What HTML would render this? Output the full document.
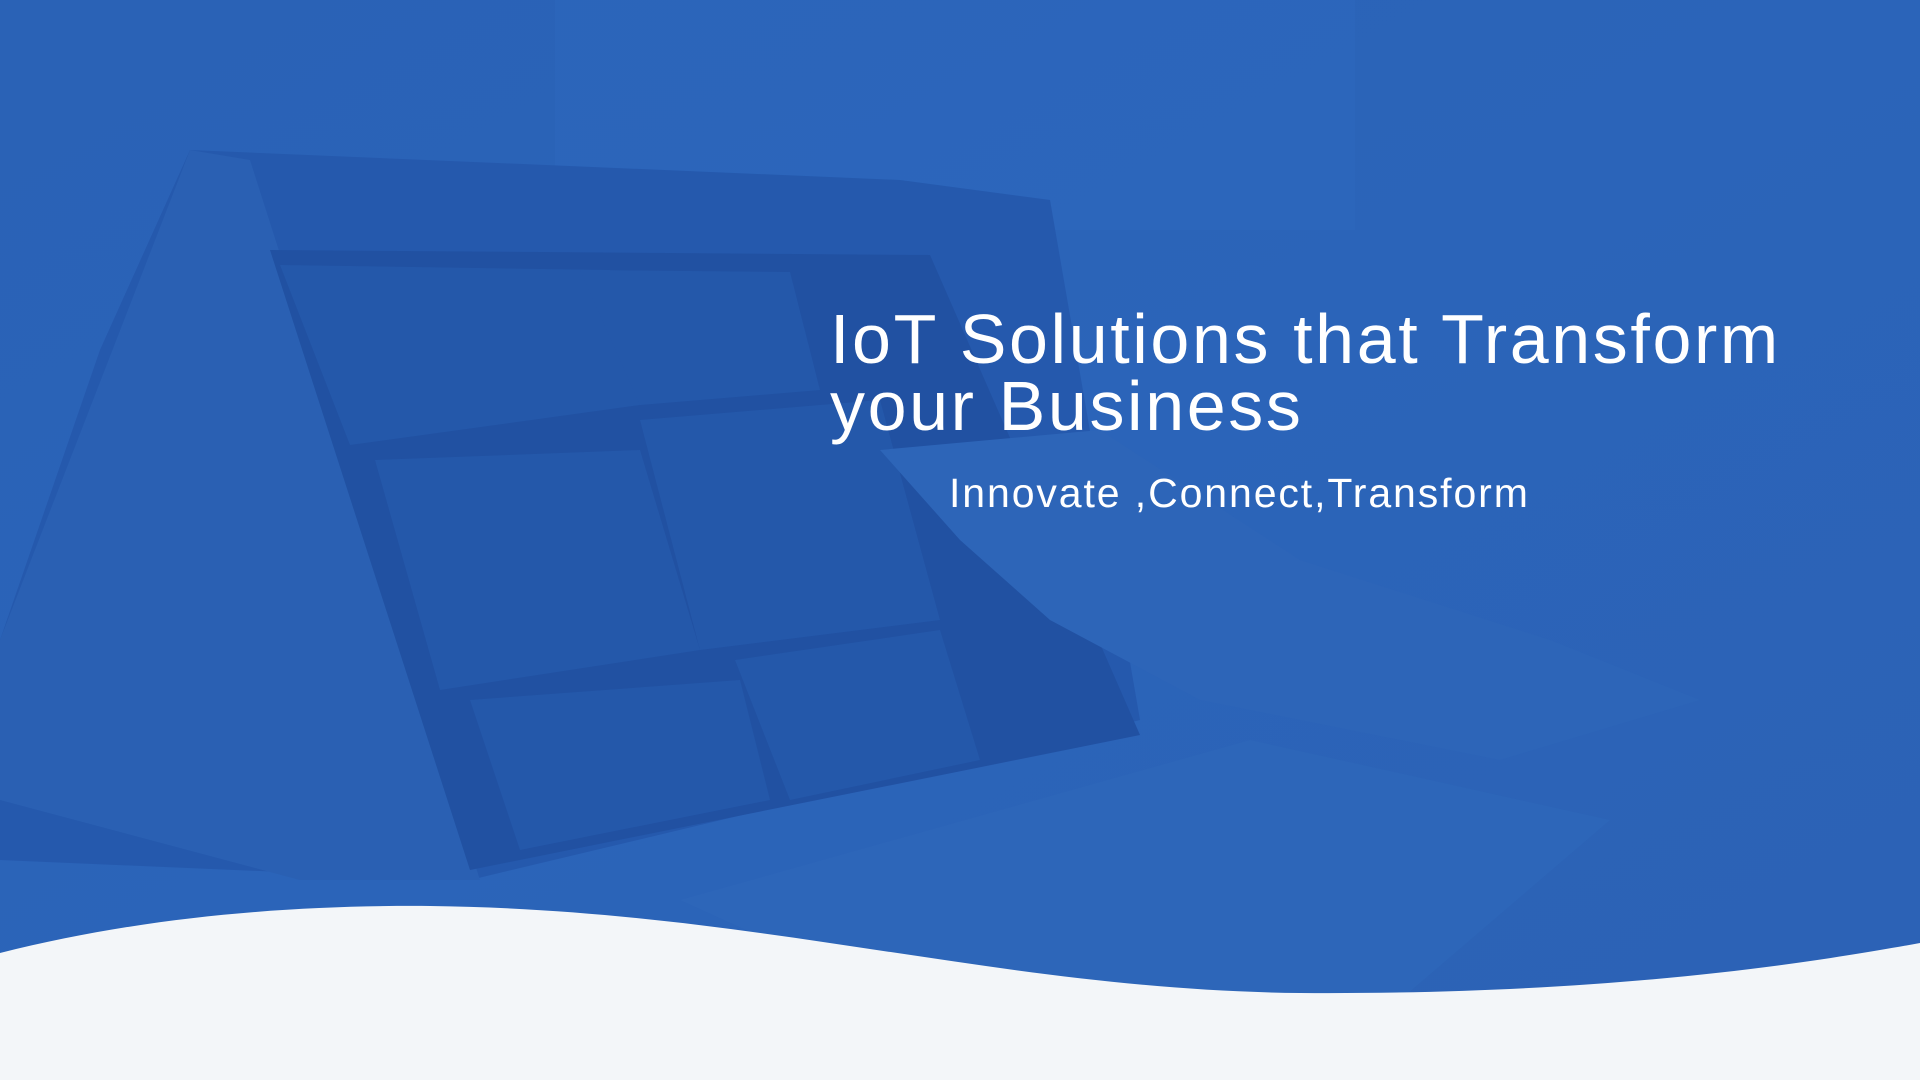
<!DOCTYPE html>
<html><head><meta charset="utf-8"><style>
html,body{margin:0;padding:0;width:1920px;height:1080px;overflow:hidden;background:#2b63b7;}
.t{position:absolute;color:#fff;font-family:"Liberation Sans",sans-serif;white-space:nowrap;}
</style></head><body>
<svg width="1920" height="1080" style="position:absolute;left:0;top:0">
<defs>
<linearGradient id="bg" x1="0" y1="0" x2="1" y2="1">
<stop offset="0" stop-color="#2a62b6"/><stop offset="0.5" stop-color="#2b64b9"/><stop offset="1" stop-color="#2c62b5"/>
</linearGradient>
</defs>
<rect width="1920" height="1080" fill="url(#bg)"/>
<rect x="555" y="0" width="800" height="230" fill="#2d68bd" opacity="0.6"/>
<polygon points="190,150 900,180 1050,200 1140,720 470,880 0,860 0,640 100,350" fill="#2559ad"/>
<polygon points="190,150 250,160 480,880 300,880 0,800 0,640" fill="#2a60b3"/>
<polygon points="270,250 930,255 1140,735 470,870" fill="#2151a2"/>
<polygon points="280,265 610,270 640,405 350,445" fill="#2458aa"/>
<polygon points="580,270 790,272 820,390 640,405" fill="#2458aa"/>
<polygon points="375,460 640,450 700,650 440,690" fill="#2458aa"/>
<polygon points="640,420 880,400 940,620 700,650" fill="#2458aa"/>
<polygon points="470,700 740,680 770,800 520,850" fill="#2458aa"/>
<polygon points="735,660 940,630 980,760 790,800" fill="#2458aa"/>
<polygon points="680,900 1250,740 1610,820 1400,1000 900,1000" fill="#2d66b9"/>
<polygon points="880,450 1100,430 1300,560 1550,640 1700,700 1500,760 1200,700 1050,620 960,540" fill="#2d65b8"/>
<path d="M0,953 C150,915 300,905 430,906 C760,910 1000,990 1300,993 C1600,995 1800,965 1920,943 L1920,1080 L0,1080 Z" fill="#f3f6f9"/>
</svg>
<div class="t" style="left:830px;top:306px;font-size:70px;line-height:67px;letter-spacing:2.6px;">IoT Solutions that Transform<br>your Business</div>
<div class="t" style="left:949px;top:468px;font-size:41px;line-height:50px;letter-spacing:1.9px;">Innovate ,Connect,Transform</div>
</body></html>
